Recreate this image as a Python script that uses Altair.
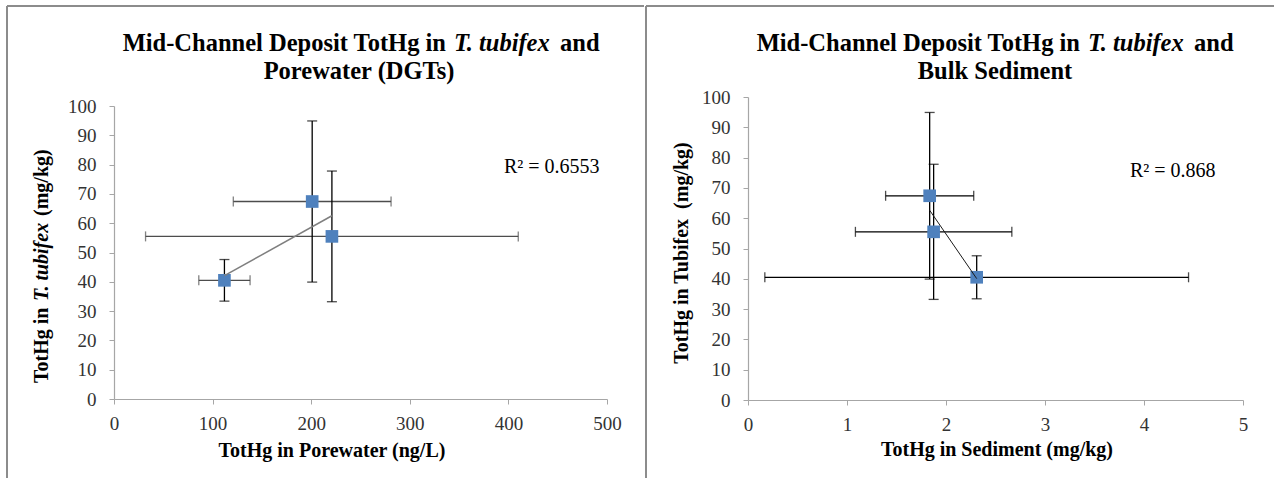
import altair as alt
import pandas as pd

FONT = "Liberation Serif"

# ---- data ----
tubifex = [40.5, 67.4, 55.5]          # TotHg in T. tubifex (mg/kg)
tubifex_err = [7.1, 27.5, 22.3]
porewater = [112, 201, 221]           # TotHg in porewater (ng/L)
porewater_err = [26, 80, 189]
sediment = [2.31, 1.835, 1.875]       # TotHg in sediment (mg/kg)
sediment_err = [2.14, 0.445, 0.79]

x_ticks_left = [0, 100, 200, 300, 400, 500]
x_ticks_right = [0, 1, 2, 3, 4, 5]
y_ticks = [0, 10, 20, 30, 40, 50, 60, 70, 80, 90, 100]

r2_left = "R\u00b2 = 0.6553"
r2_right = "R\u00b2 = 0.868"

df = pd.DataFrame({
    "tubifex": tubifex,
    "tub_lo": [v - e for v, e in zip(tubifex, tubifex_err)],
    "tub_hi": [v + e for v, e in zip(tubifex, tubifex_err)],
    "porewater": porewater,
    "pw_lo": [v - e for v, e in zip(porewater, porewater_err)],
    "pw_hi": [v + e for v, e in zip(porewater, porewater_err)],
    "sediment": sediment,
    "sed_lo": [v - e for v, e in zip(sediment, sediment_err)],
    "sed_hi": [v + e for v, e in zip(sediment, sediment_err)],
})

BORDER = "#8C8C8C"
BLUE = "#4F81BD"


def txt(s, x, y, size=20, weight="bold", style="normal", align="left",
        angle=0, baseline="alphabetic"):
    return alt.Chart(alt.Data(values=[{"t": s}])).mark_text(
        font=FONT, fontSize=size, fontWeight=weight, fontStyle=style,
        align=align, baseline=baseline, angle=angle, color="black"
    ).encode(x=alt.value(x), y=alt.value(y), text=alt.Text("t:N"))


def hline(x1, x2, y):
    return alt.Chart(alt.Data(values=[{}])).mark_rule(
        color=BORDER, strokeWidth=2
    ).encode(x=alt.value(x1), x2=alt.value(x2), y=alt.value(y))


def vline(x, y1, y2):
    return alt.Chart(alt.Data(values=[{}])).mark_rule(
        color=BORDER, strokeWidth=2
    ).encode(x=alt.value(x), y=alt.value(y1), y2=alt.value(y2))


def panel(xf, lo, hi, xdomain, xticks, yrange, hbar_color, trend_color,
          trend_width):
    xs = alt.Scale(domain=xdomain, nice=False, zero=False)
    ys = alt.Scale(domain=[0, 100], nice=False, range=yrange)
    xa = alt.Axis(values=xticks, title=None, format="d", labelFlush=False)
    ya = alt.Axis(values=y_ticks, title=None, format="d", labelFlush=False)
    base = alt.Chart(df)
    X = lambda f: alt.X(f"{f}:Q", scale=xs, axis=xa, title=None)
    Y = lambda f: alt.Y(f"{f}:Q", scale=ys, axis=ya, title=None)

    xbar = base.mark_rule(color=hbar_color, strokeWidth=1.3).encode(
        x=X(lo), x2=alt.X2(f"{hi}:Q"), y=Y("tubifex"))
    xcap1 = base.mark_tick(orient="vertical", size=10, thickness=1.3,
                           color=hbar_color).encode(x=X(lo), y=Y("tubifex"))
    xcap2 = base.mark_tick(orient="vertical", size=10, thickness=1.3,
                           color=hbar_color).encode(x=X(hi), y=Y("tubifex"))
    ybar = base.mark_rule(color="black", strokeWidth=1.3).encode(
        x=X(xf), y=Y("tub_lo"), y2=alt.Y2("tub_hi:Q"))
    ycap1 = base.mark_tick(orient="horizontal", size=10, thickness=1.3,
                           color="black").encode(x=X(xf), y=Y("tub_lo"))
    ycap2 = base.mark_tick(orient="horizontal", size=10, thickness=1.3,
                           color="black").encode(x=X(xf), y=Y("tub_hi"))
    pts = base.mark_point(shape="square", filled=True, size=160, color=BLUE,
                          opacity=1).encode(x=X(xf), y=Y("tubifex"))
    trend = base.transform_regression(xf, "tubifex").mark_line(
        color=trend_color, strokeWidth=trend_width
    ).encode(x=X(xf), y=Y("tubifex"))
    return [xbar, xcap1, xcap2, ybar, ycap1, ycap2, pts, trend]


# ---- left panel (plot origin at 114,97; axis 0..100 spans 106..399) ----
LW, LH = 493, 302
left_layers = panel("porewater", "pw_lo", "pw_hi", [0, 500], x_ticks_left,
                    [302, 9], "#4D4D4D", "#7F7F7F", 1.5)
left_layers += [
    vline(-107, -91, 381),
    hline(-107, 530, -91),
    txt("Mid-Channel Deposit TotHg in", 332, -46, size=24.5, align="right"),
    txt("T. tubifex", 340, -46, size=24.5, style="italic"),
    txt("and", 446, -46, size=24.5),
    txt("Porewater (DGTs)", 245, -18, size=24.5, align="center"),
    txt(r2_left, 390, 76, size=20, weight="normal"),
    txt("TotHg in Porewater (ng/L)", 218, 360, size=20, align="center"),
    txt("TotHg in", -66, 286, size=20, angle=270),
    txt("T. tubifex", -66, 204, size=20, angle=270, style="italic"),
    txt("(mg/kg)", -66, 119, size=20, angle=270),
]
left = alt.layer(*left_layers).properties(width=LW, height=LH)

# ---- right panel (plot origin at 748,97) ----
RW, RH = 495, 303
right_layers = panel("sediment", "sed_lo", "sed_hi", [0, 5], x_ticks_right,
                     [RH, 0], "black", "#1A1A1A", 1.0)
right_layers += [
    vline(-102, -91, 381),
    hline(-102, 526, -91),
    txt("Mid-Channel Deposit TotHg in", 332, -46, size=24.5, align="right"),
    txt("T. tubifex", 340, -46, size=24.5, style="italic"),
    txt("and", 446, -46, size=24.5),
    txt("Bulk Sediment", 247, -18, size=24.5, align="center"),
    txt(r2_right, 382, 80, size=20, weight="normal"),
    txt("TotHg in Sediment (mg/kg)", 249, 359, size=20, align="center"),
    txt("TotHg in Tubifex\u00a0 (mg/kg)", -60, 156, size=20, angle=270,
        align="center"),
]
right = alt.layer(*right_layers).properties(width=RW, height=RH)

chart = alt.hconcat(left, right, spacing=0).properties(
    padding={"left": 6, "top": 5, "right": 0, "bottom": 0},
    background="white",
).configure_view(stroke=None).configure_axis(
    grid=False, domainColor="#A6A6A6", tickColor="#A6A6A6", tickSize=5,
    labelFont=FONT, labelFontSize=19, labelColor="#333333", domainWidth=1.2,
).configure_axisY(labelPadding=13).configure_axisX(labelPadding=10)

chart.save("out.html", embed_options={"renderer": "svg", "actions": False})
